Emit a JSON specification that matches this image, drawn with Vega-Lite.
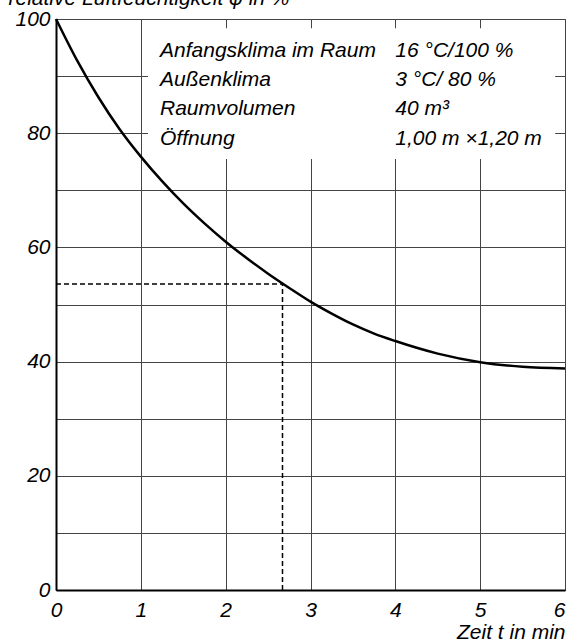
{
  "$schema": "https://vega.github.io/schema/vega-lite/v6.json",
  "width": 509,
  "height": 571,
  "autosize": {"type": "none"},
  "padding": {"left": 56, "top": 19, "right": 1, "bottom": 53},
  "background": "white",
  "config": {
    "view": {"stroke": "#555555", "strokeWidth": 1},
    "font": "Liberation Sans",
    "axis": {
      "labelFont": "Liberation Sans",
      "labelFontStyle": "italic",
      "labelFontSize": 21,
      "labelColor": "black",
      "titleFont": "Liberation Sans",
      "titleFontStyle": "italic",
      "titleFontWeight": "normal",
      "titleFontSize": 21,
      "titleColor": "black",
      "gridColor": "#444444",
      "gridWidth": 1,
      "gridOpacity": 1,
      "domainColor": "black",
      "domainWidth": 2,
      "ticks": false,
      "tickSize": 0
    }
  },
  "datasets": {
    "curve": [
      {"t": 0, "phi": 100},
      {"t": 0.25, "phi": 92.7},
      {"t": 0.5, "phi": 86.3},
      {"t": 0.75, "phi": 80.7},
      {"t": 1.0, "phi": 75.9},
      {"t": 1.25, "phi": 71.6},
      {"t": 1.5, "phi": 67.7},
      {"t": 1.75, "phi": 64.2},
      {"t": 2.0, "phi": 61.0},
      {"t": 2.25, "phi": 58.1},
      {"t": 2.5, "phi": 55.4},
      {"t": 2.75, "phi": 52.9},
      {"t": 3.0, "phi": 50.5},
      {"t": 3.25, "phi": 48.4},
      {"t": 3.5, "phi": 46.5},
      {"t": 3.75, "phi": 44.9},
      {"t": 4.0, "phi": 43.6},
      {"t": 4.5, "phi": 41.4},
      {"t": 5.0, "phi": 39.9},
      {"t": 5.5, "phi": 39.1},
      {"t": 6.0, "phi": 38.8}
    ],
    "marker": [{"t0": 0, "t1": 2.67, "p0": 0, "p": 53.6}],
    "box": [{"x1": 1.085, "x2": 5.884, "y1": 75.5, "y2": 98.37}],
    "notes": [
      {"t": 1.226, "phi": 93.35, "label": "Anfangsklima im Raum"},
      {"t": 1.226, "phi": 88.3, "label": "Außenklima"},
      {"t": 1.226, "phi": 83.2, "label": "Raumvolumen"},
      {"t": 1.226, "phi": 77.95, "label": "Öffnung"},
      {"t": 4.0, "phi": 93.35, "label": "16 °C/100 %"},
      {"t": 4.0, "phi": 88.3, "label": "\u20073 °C/ 80 %"},
      {"t": 4.0, "phi": 83.2, "label": "40 m³"},
      {"t": 4.0, "phi": 77.95, "label": "1,00 m ×1,20 m"}
    ]
  },
  "layer": [
    {
      "data": {"name": "box"},
      "mark": {"type": "rect", "fill": "white", "stroke": null},
      "encoding": {
        "x": {
          "field": "x1", "type": "quantitative",
          "scale": {"domain": [0, 6], "nice": false, "zero": false},
          "axis": {
            "values": [0, 1, 2, 3, 4, 5, 6],
            "format": "d",
            "grid": true,
            "labelFlush": false,
            "labelPadding": 9,
            "labelAlign": {"expr": "datum.value == 6 ? 'right' : 'center'"},
            "labelDx": {"expr": "datum.value == 6 ? 2 : -2"},
            "title": "Zeit t in min",
            "titleAlign": "right",
            "titleAnchor": "end",
            "titleX": 509,
            "titleY": 48,
            "titleBaseline": "alphabetic"
          }
        },
        "x2": {"field": "x2"},
        "y": {
          "field": "y1", "type": "quantitative",
          "scale": {"domain": [0, 100], "nice": false, "zero": false},
          "axis": {
            "values": [0, 10, 20, 30, 40, 50, 60, 70, 80, 90, 100],
            "format": "d",
            "grid": true,
            "labelFlush": false,
            "labelPadding": 6,
            "labelExpr": "datum.value % 20 == 0 ? datum.label : ''",
            "title": "relative Luftfeuchtigkeit φ in %",
            "titleAngle": 0,
            "titleAlign": "left",
            "titleBaseline": "alphabetic",
            "titleX": -48,
            "titleY": -15
          }
        },
        "y2": {"field": "y2"}
      }
    },
    {
      "data": {"name": "marker"},
      "mark": {"type": "rule", "color": "black", "strokeWidth": 1.5, "strokeDash": [5, 3]},
      "encoding": {
        "x": {"field": "t0", "type": "quantitative"},
        "x2": {"field": "t1"},
        "y": {"field": "p", "type": "quantitative"}
      }
    },
    {
      "data": {"name": "marker"},
      "mark": {"type": "rule", "color": "black", "strokeWidth": 1.5, "strokeDash": [5, 3]},
      "encoding": {
        "x": {"field": "t1", "type": "quantitative"},
        "y": {"field": "p0", "type": "quantitative"},
        "y2": {"field": "p"}
      }
    },
    {
      "data": {"name": "curve"},
      "mark": {"type": "line", "color": "black", "strokeWidth": 2.5, "interpolate": "monotone"},
      "encoding": {
        "x": {"field": "t", "type": "quantitative"},
        "y": {"field": "phi", "type": "quantitative"}
      }
    },
    {
      "data": {"name": "notes"},
      "mark": {"type": "text", "align": "left", "baseline": "alphabetic", "font": "Liberation Sans", "fontStyle": "italic", "fontSize": 21, "color": "black"},
      "encoding": {
        "x": {"field": "t", "type": "quantitative"},
        "y": {"field": "phi", "type": "quantitative"},
        "text": {"field": "label"}
      }
    }
  ]
}
